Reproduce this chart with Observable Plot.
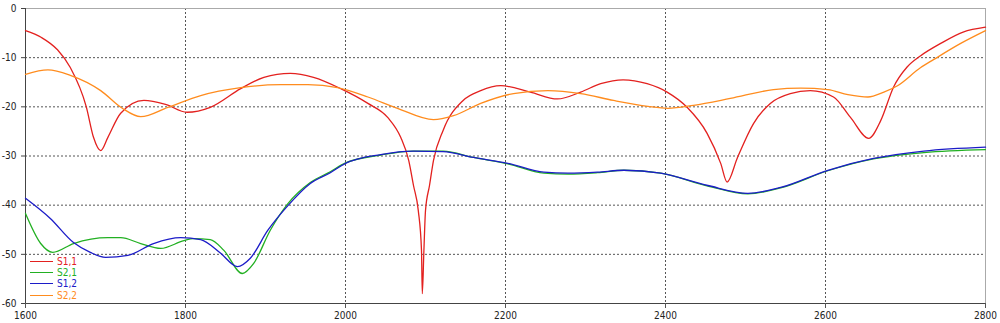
<!DOCTYPE html>
<html><head><meta charset="utf-8">
<script src="https://cdn.jsdelivr.net/npm/d3@7"></script>
<script src="https://cdn.jsdelivr.net/npm/@observablehq/plot@0.6"></script>
<style>
body{margin:0;background:#fff}
#wrap{position:relative;width:1000px;height:323px;font-family:Tahoma,"DejaVu Sans Condensed","DejaVu Sans",sans-serif}
#legend{position:absolute;left:30px;top:256px;font-size:10px;line-height:11.2px}
#legend .it{display:flex;align-items:center;height:11.2px}
#legend .sw{width:23px;height:0;border-top:1.5px solid;margin-right:4px}
</style>
</head><body><div id="wrap"></div>
<script>
const xTicks = [1600,1800,2000,2200,2400,2600,2800];
const yTicks = [0,-10,-20,-30,-40,-50,-60];
const seriesNames = ["S1,1","S2,1","S1,2","S2,2"];
const seriesColors = ["#e3211f","#22b022","#1c1cc8","#ff8c1e"];

const s11F = [1600,1620,1640,1656,1676,1685,1694,1703,1719,1748,1775,1802,1831,1869,1898,1931,1960,1994,2028,2053,2069,2079,2085,2091,2095,2096,2098,2100,2105,2110,2122,2147,2169,2194,2231,2265,2294,2319,2347,2377,2402,2427,2452,2469,2477,2490,2510,2531,2556,2581,2610,2631,2654,2669,2685,2702,2719,2744,2772,2800];
const s11V = [-4.5,-5.9,-8.4,-12.0,-20.0,-26.2,-28.9,-26.2,-21.3,-18.7,-19.5,-21.1,-20.1,-16.3,-14.0,-13.2,-14.0,-16.3,-19.3,-22.2,-26.2,-30.9,-36,-41.1,-49.2,-58.0,-49.2,-41.1,-36,-30.9,-24.8,-18.7,-16.7,-15.7,-17.0,-18.4,-17.0,-15.3,-14.5,-15.3,-17.0,-20.1,-25.4,-31.5,-35.3,-30.3,-23.4,-19.3,-17.3,-16.7,-18.0,-22.1,-26.4,-22.8,-16.0,-11.9,-9.6,-7.1,-4.8,-3.8];

const s21F = [1600,1619,1634,1660,1703,1719,1744,1769,1798,1810,1831,1848,1871,1885,1906,1928,1956,1981,2000,2044,2085,2122,2160,2203,2248,2278,2315,2348,2394,2453,2503,2544,2603,2660,2723,2800];
const s21V = [-41.7,-47.8,-49.6,-47.8,-46.6,-46.6,-47.8,-48.8,-47.2,-46.8,-47.0,-49.2,-53.9,-51.9,-45.1,-39.7,-35.4,-33.2,-31.4,-29.8,-29.0,-29.0,-30.3,-31.6,-33.5,-33.7,-33.4,-32.9,-33.5,-36.1,-37.7,-36.5,-33.0,-30.6,-29.3,-28.7];

const s12F = [1600,1631,1660,1681,1700,1728,1760,1794,1819,1844,1865,1881,1903,1928,1956,1981,2000,2044,2085,2122,2160,2203,2248,2278,2315,2348,2394,2453,2503,2544,2603,2660,2723,2800];
const s12V = [-38.6,-42.7,-47.6,-49.6,-50.6,-50.2,-47.8,-46.6,-47.0,-49.8,-52.5,-50.8,-45.1,-40.1,-35.6,-33.4,-31.5,-29.7,-29.0,-29.1,-30.3,-31.5,-33.3,-33.5,-33.3,-32.9,-33.5,-36.0,-37.6,-36.4,-32.9,-30.5,-29.0,-28.2];

const s22F = [1600,1628,1656,1694,1721,1744,1778,1819,1869,1919,1953,1990,2028,2065,2110,2135,2169,2210,2253,2294,2335,2378,2403,2435,2481,2535,2569,2603,2628,2653,2673,2690,2719,2735,2769,2800];
const s22V = [-13.4,-12.5,-13.6,-16.7,-20.3,-22.0,-20.1,-17.7,-16.1,-15.5,-15.5,-16.1,-18.0,-20.3,-22.6,-21.8,-19.3,-17.3,-16.7,-17.3,-18.7,-19.9,-20.3,-19.7,-18.3,-16.5,-16.2,-16.5,-17.5,-18.0,-17.0,-15.7,-12.0,-10.4,-7.1,-4.5];

const mk = (F,V) => F.map((f,i)=>({f, v:V[i]}));
const series = [mk(s11F,s11V), mk(s21F,s21V), mk(s12F,s12V), mk(s22F,s22V)];
const order = [0,1,2,3];

const gridX = xTicks.slice(1,-1), gridY = yTicks.slice(1,-1);
const chart = Plot.plot({
  width:1000, height:323,
  marginLeft:25, marginRight:15, marginTop:8, marginBottom:20,
  style:{fontFamily:'Tahoma,"DejaVu Sans Condensed","DejaVu Sans",sans-serif', fontSize:"10px", background:"#fff", color:"#222"},
  x:{domain:[1600,2800]},
  y:{domain:[-60,0]},
  marks:[
    Plot.ruleX(gridX,{x:d=>d, stroke:"#555", strokeDasharray:"2,2", strokeWidth:1}),
    Plot.ruleY(gridY,{y:d=>d, stroke:"#555", strokeDasharray:"2,2", strokeWidth:1}),
    Plot.frame({stroke:"#aaa"}),
    Plot.ruleX([1600],{stroke:"#444"}),
    Plot.ruleY([-60],{stroke:"#444"}),
    ...order.map(i => Plot.line(series[i],{x:"f", y:"v", stroke:seriesColors[i], strokeWidth:1.3, curve:"monotone-x"})),
    Plot.axisX(xTicks,{tickSize:5, tickPadding:3, stroke:"#555", tickFormat:d=>String(d), label:null}),
    Plot.axisY(yTicks,{tickSize:4, tickPadding:5, stroke:"#444", tickFormat:d=>String(d), label:null})
  ]
});
const wrap = document.getElementById("wrap");
wrap.appendChild(chart);
const lg = document.createElement("div");
lg.id = "legend";
seriesNames.forEach((n,i)=>{
  const it = document.createElement("div"); it.className="it";
  const sw = document.createElement("span"); sw.className="sw"; sw.style.borderColor = seriesColors[i];
  const tx = document.createElement("span"); tx.textContent = n; tx.style.color = seriesColors[i];
  it.appendChild(sw); it.appendChild(tx); lg.appendChild(it);
});
wrap.appendChild(lg);
</script></body></html>
